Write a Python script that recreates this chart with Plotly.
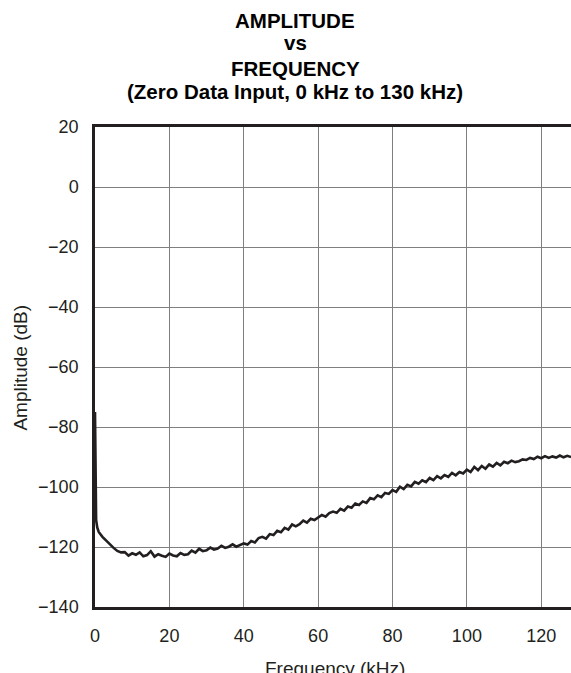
import plotly.graph_objects as go

freq_khz = [0, 0.15, 0.3, 0.6, 1, 2, 3, 4, 5, 6, 7,
            8, 9, 10, 11, 12, 13, 14, 15, 16, 17, 18, 19, 20, 21, 22, 23, 24, 25, 26, 27,
            28, 29, 30, 31, 32, 33, 34, 35, 36, 37, 38, 39, 40, 41, 42, 43, 44, 45, 46, 47,
            48, 49, 50, 51, 52, 53, 54, 55, 56, 57, 58, 59, 60, 61, 62, 63, 64, 65, 66, 67,
            68, 69, 70, 71, 72, 73, 74, 75, 76, 77, 78, 79, 80, 81, 82, 83, 84, 85, 86, 87,
            88, 89, 90, 91, 92, 93, 94, 95, 96, 97, 98, 99, 100, 101, 102, 103, 104, 105, 106, 107,
            108, 109, 110, 111, 112, 113, 114, 115, 116, 117, 118, 119, 120, 121, 122, 123, 124, 125, 126, 127, 128]

amplitude_db = [-75, -100, -111, -113.5, -115, -116.6, -117.9, -119.2, -120.3, -121.3, -121.8,
                -121.7, -122.9, -122.1, -122.6, -121.8, -123.1, -122.7, -121.4, -123.2, -122.4,
                -122.9, -123.3, -122.2, -122.8, -123.1, -122.0, -122.6, -122.4, -121.2, -121.9,
                -120.6, -121.4, -121.1, -120.2, -120.9, -120.5, -119.6, -120.3, -119.9, -119.1,
                -119.9, -119.4, -118.8, -119.2, -118.0, -118.5, -117.0, -116.6, -117.2, -115.7,
                -116.0, -114.6, -115.1, -113.6, -114.2, -112.5, -113.1, -112.4, -111.2, -111.9,
                -110.6, -111.0, -110.0, -109.3, -109.9, -108.7, -108.2, -108.6, -107.3, -107.9,
                -106.5, -106.9, -105.5, -106.0, -104.8, -105.3, -103.7, -104.1, -102.8, -103.4,
                -102.0, -102.3, -101.0, -101.6, -99.9, -100.7, -99.3, -99.8, -98.3, -98.9,
                -97.8, -98.4, -97.0, -97.7, -96.4, -97.1, -96.0, -96.6, -95.3, -96.1,
                -95.0, -95.5, -94.2, -95.0, -93.3, -94.4, -93.0, -93.9, -92.5, -93.2,
                -92.0, -92.8, -91.6, -92.1, -91.2, -91.7, -91.4, -90.8, -91.0, -90.3,
                -90.7, -89.9, -90.4, -89.7, -90.3, -89.8, -90.2, -89.5, -90.1, -89.6, -90.0]

x_ticks = [0, 20, 40, 60, 80, 100, 120]
y_ticks = [20, 0, -20, -40, -60, -80, -100, -120, -140]

title_lines = ["AMPLITUDE", "vs", "FREQUENCY", "(Zero Data Input, 0 kHz to 130 kHz)"]
x_title = "Frequency (kHz)"
y_title = "Amplitude (dB)"

FONT = "Liberation Sans, Arial, sans-serif"
INK = "#231f20"
W, H = 571, 673
L, R, T, B = 95, 0, 127, 66
plot_w = W - L - R
plot_h = H - T - B


def px_x(px):
    return (px - L) / plot_w


def px_y(py):
    return (H - B - py) / plot_h


fig = go.Figure()
fig.add_trace(go.Scatter(x=freq_khz, y=amplitude_db, mode="lines",
                         line=dict(color=INK, width=2.6), showlegend=False,
                         hoverinfo="skip"))

grid = "#7f7f7f"
fig.update_layout(
    width=W, height=H,
    margin=dict(l=L, r=R, t=T, b=B, pad=0),
    paper_bgcolor="white", plot_bgcolor="white",
    font=dict(family=FONT, size=18, color=INK),
    xaxis=dict(range=[0, 128], tickvals=x_ticks,
               showgrid=True, gridcolor=grid, gridwidth=1.3, zeroline=False,
               showline=True, linecolor=INK, linewidth=2.5, mirror=True,
               ticks="", ticklabelstandoff=11, tickfont=dict(size=18, color=INK)),
    yaxis=dict(range=[-140, 20], tickvals=y_ticks,
               showgrid=True, gridcolor=grid, gridwidth=1.3, zeroline=False,
               showline=True, linecolor=INK, linewidth=2.5, mirror=False,
               ticks="", ticklabelstandoff=10, tickfont=dict(size=18, color=INK)),
)

title_centers = [20.1, 42.8, 68.8, 91.1]
for line, cy in zip(title_lines, title_centers):
    fig.add_annotation(text=line, xref="paper", yref="paper",
                       x=px_x(295), y=px_y(cy), xanchor="center", yanchor="middle",
                       showarrow=False,
                       font=dict(family=FONT, size=20.5, color="#000000", weight="bold"))

fig.add_annotation(text=x_title, xref="paper", yref="paper",
                   x=px_x(334.5), y=px_y(668.4),
                   xanchor="center", yanchor="middle", showarrow=False,
                   font=dict(family=FONT, size=19, color=INK))
fig.add_annotation(text=y_title, xref="paper", yref="paper",
                   x=px_x(20.1), y=px_y(367.5), textangle=-90,
                   xanchor="center", yanchor="middle", showarrow=False,
                   font=dict(family=FONT, size=19, color=INK))

fig.write_html("out.html", config={"displayModeBar": False},
               post_script="document.body.style.margin='0';document.body.style.overflow='hidden';")
